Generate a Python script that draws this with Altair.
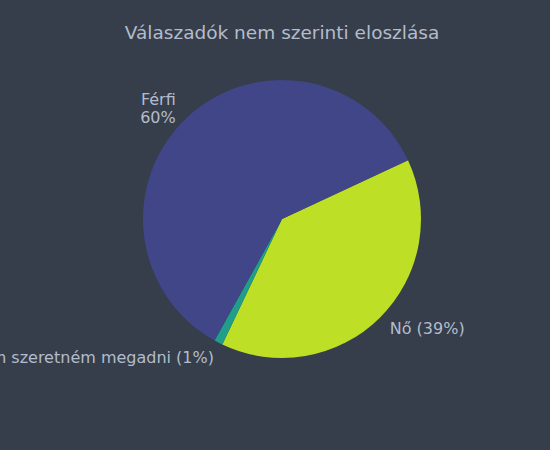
import altair as alt
import pandas as pd

categories = ["Nő", "Nem szeretném megadni", "Férfi"]
values = [39, 1, 60]
labels = [["Nő (39%)"], ["Nem szeretném megadni (1%)"], ["Férfi", "60%"]]
colors = ["#bddf26", "#1f9e89", "#404688"]

df = pd.DataFrame({
    "cat": categories,
    "value": values,
    "order": list(range(len(categories))),
    "label": ["\n".join(l) for l in labels],
})

start = 1.135
theta_scale = alt.Scale(range=[start, start + 2 * 3.14159265])

base = alt.Chart(df).encode(
    theta=alt.Theta("value:Q", stack=True, scale=theta_scale),
    order=alt.Order("order:Q"),
)

arc = base.mark_arc(outerRadius=139, stroke=None).encode(
    color=alt.Color("cat:N", scale=alt.Scale(domain=categories, range=colors), legend=None)
)

txt_style = dict(radius=153, fontSize=16, font="DejaVu Sans", color="#b3bccc",
                 baseline="middle", lineBreak="\n")


def label_layer(cat, align, dx, dy):
    return base.mark_text(align=align, dx=dx, dy=dy, **txt_style).encode(
        text=alt.condition(f"datum.cat == '{cat}'", alt.Text("label:N"), alt.value(""))
    )


chart = alt.layer(
    arc,
    label_layer("Nő", "left", 0, 1),
    label_layer("Nem szeretném megadni", "right", 2, 3),
    label_layer("Férfi", "right", -2, -7),
).properties(
    width=536, height=338,
    title=alt.TitleParams("Válaszadók nem szerinti eloszlása", fontSize=18.5,
                          font="DejaVu Sans", fontWeight="normal", color="#b3bccc",
                          anchor="middle", offset=8),
    padding={"left": 14, "top": 50, "right": 0, "bottom": 62},
    autosize=alt.AutoSizeParams(type="none"),
    background="#363e4b",
).configure_view(stroke=None)

chart.save("out.html", embed_options={"renderer": "svg", "actions": False})
